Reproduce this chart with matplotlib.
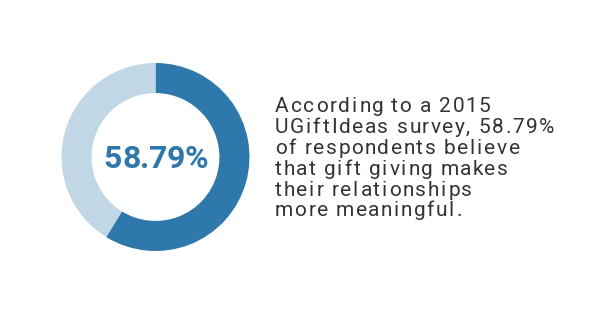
import matplotlib
matplotlib.use("Agg")
import matplotlib.pyplot as plt
from matplotlib.font_manager import findfont, FontProperties
from matplotlib.ft2font import FT2Font

# data
labels = ["believe", "other"]
shares = [58.79, 41.21]
colors = ["#2f78ab", "#c1d7e6"]
center_label = "58.79%"
caption_lines = [
    "According to a 2015",
    "UGiftIdeas survey, 58.79%",
    "of respondents believe",
    "that gift giving makes",
    "their relationships",
    "more meaningful.",
]

W, H = 600, 315
DPI = 100
fig = plt.figure(figsize=(W / DPI, H / DPI), dpi=DPI)
fig.patch.set_facecolor("white")


def advances(s, size, weight="normal"):
    fp = FontProperties(family="Roboto", size=size, weight=weight)
    font = FT2Font(findfont(fp), hinting_factor=1)
    font.set_size(size, DPI)
    return [font.load_char(ord(c)).horiAdvance / 64 for c in s]


def spaced_text(x, y, s, size, spacing, color, weight="normal", center=False):
    # draw text char by char with extra letter spacing (pixel coords, y from top)
    adv = advances(s, size, weight)
    total = sum(adv) + spacing * (len(s) - 1)
    pos = x - total / 2 if center else x
    for c, a in zip(s, adv):
        if c != " ":
            fig.text(pos / W, 1 - y / H, c, ha="left", va="baseline", fontsize=size,
                     fontweight=weight, color=color, family="Roboto")
        pos += a + spacing


# donut axes (pixel box -> figure fraction)
cx, cy, r = 155.5, 158, 94
ax = fig.add_axes([(cx - r) / W, (cy - r) / H, 2 * r / W, 2 * r / H])
ax.pie(shares, colors=colors, startangle=90, counterclock=False, radius=1,
       wedgeprops=dict(width=0.32, edgecolor="none"))
ax.set_aspect("equal")
ax.set_xlim(-1, 1)
ax.set_ylim(-1, 1)
ax.axis("off")

spaced_text(cx, 168, center_label, 23, 0, "#2f78ab", weight="bold", center=True)

# caption
y_first = 112
step = 20.9
for i, line in enumerate(caption_lines):
    spaced_text(275, y_first + i * step, line, 15, 1.6, "#333333")

fig.savefig("out.png", dpi=DPI)
